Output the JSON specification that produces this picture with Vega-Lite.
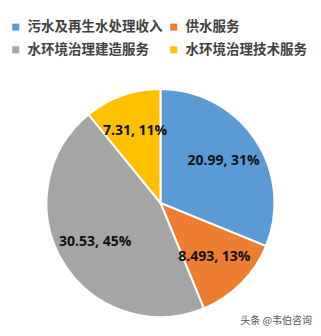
{
  "$schema": "https://vega.github.io/schema/vega-lite/v6.json",
  "width": 321,
  "height": 266,
  "autosize": "none",
  "padding": {"top": 70, "left": 0, "right": 0, "bottom": 0},
  "background": "white",
  "data": {
    "values": [
      {"idx": 1, "category": "污水及再生水处理收入", "value": 20.99, "label": "20.99, 31%"},
      {"idx": 2, "category": "供水服务", "value": 8.493, "label": "8.493, 13%"},
      {"idx": 3, "category": "水环境治理建造服务", "value": 30.53, "label": "30.53, 45%"},
      {"idx": 4, "category": "水环境治理技术服务", "value": 7.31, "label": "7.31, 11%"}
    ]
  },
  "title": {
    "text": "头条 @韦伯咨询",
    "orient": "bottom",
    "anchor": "end",
    "offset": -20,
    "dx": -9,
    "fontSize": 10,
    "fontWeight": "normal",
    "color": "#555555",
    "font": "Noto Sans CJK SC"
  },
  "encoding": {
    "theta": {"field": "value", "type": "quantitative", "stack": true},
    "order": {"field": "idx", "type": "quantitative"}
  },
  "layer": [
    {
      "mark": {"type": "arc", "outerRadius": 114, "stroke": "white", "strokeWidth": 2},
      "encoding": {
        "color": {
          "field": "category",
          "type": "nominal",
          "sort": null,
          "scale": {
            "domain": ["污水及再生水处理收入", "供水服务", "水环境治理建造服务", "水环境治理技术服务"],
            "range": ["#5B9BD5", "#ED7D31", "#A5A5A5", "#FFC000"]
          },
          "legend": {
            "orient": "none",
            "legendX": 9,
            "legendY": -50,
            "direction": "horizontal",
            "columns": 2,
            "title": null,
            "padding": 0,
            "symbolType": "square",
            "symbolSize": 49,
            "symbolStrokeWidth": 0,
            "labelFontSize": 13.5,
            "labelFont": "Noto Sans CJK SC",
            "labelFontWeight": "bold",
            "labelColor": "#404040",
            "labelOffset": 5,
            "columnPadding": 4,
            "rowPadding": 8,
            "labelLimit": 300
          }
        }
      }
    },
    {
      "mark": {
        "type": "text",
        "radius": 76,
        "font": "Open Sans",
        "fontSize": 14,
        "fontWeight": "bold",
        "color": "#111111"
      },
      "encoding": {
        "text": {"field": "label", "type": "nominal"}
      }
    }
  ],
  "config": {"view": {"stroke": null}}
}
